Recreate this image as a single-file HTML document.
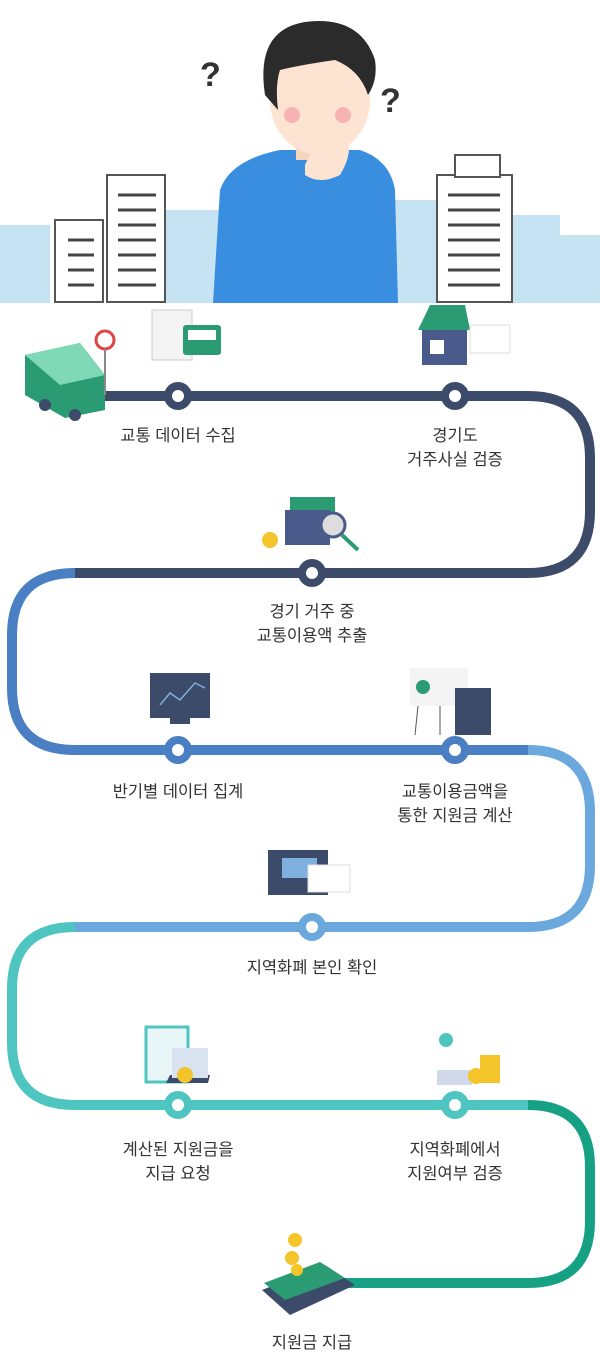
<!DOCTYPE html>
<html><head><meta charset="utf-8"><style>
html,body{margin:0;padding:0;background:#fff;}
body{width:600px;height:1369px;position:relative;overflow:hidden;font-family:"Liberation Sans","Noto Sans CJK KR",sans-serif;}
svg{position:absolute;left:0;top:0;}
.l{position:absolute;transform:translateX(-50%);text-align:center;font-size:16.5px;line-height:24px;color:#333;white-space:nowrap;}
</style></head><body>
<svg width="600" height="1369" viewBox="0 0 600 1369">
<g fill="#c6e3f4">
<rect x="0" y="225" width="50" height="78"/><rect x="160" y="210" width="60" height="93"/>
<rect x="395" y="200" width="45" height="103"/><rect x="510" y="215" width="50" height="88"/><rect x="560" y="235" width="40" height="68"/>
</g>
<g fill="#fff" stroke="#555" stroke-width="2">
<rect x="55" y="220" width="48" height="82"/><rect x="107" y="175" width="58" height="127"/>
<rect x="437" y="175" width="75" height="127"/><rect x="455" y="155" width="45" height="22"/>
</g>
<g stroke="#444" stroke-width="3">
<path d="M68 240h26M68 255h26M68 270h26M68 285h26M118 195h38M118 210h38M118 225h38M118 240h38M118 255h38M118 270h38M118 285h38M448 195h52M448 210h52M448 225h52M448 240h52M448 255h52M448 270h52M448 285h52"/>
</g>
<path d="M213 303 L220 190 Q230 160 280 150 L360 150 Q390 160 395 190 L398 303 Z" fill="#3a8ee0"/>
<rect x="296" y="120" width="46" height="40" fill="#f6d3bd"/>
<ellipse cx="320" cy="100" rx="50" ry="55" fill="#fde4d2"/>
<path d="M265 95 Q255 30 305 22 Q360 15 375 60 Q378 80 368 95 Q360 70 335 60 Q300 65 280 70 Q275 85 278 110 Z" fill="#2b2b2b"/>
<circle cx="292" cy="115" r="8" fill="#f7b3b3"/><circle cx="343" cy="115" r="8" fill="#f7b3b3"/>
<path d="M305 165 Q320 130 345 135 Q355 150 340 175 Q320 185 305 175Z" fill="#fde4d2"/>
<text x="200" y="86" font-size="34" font-weight="bold" fill="#333" font-family="Liberation Sans">?</text>
<text x="380" y="112" font-size="34" font-weight="bold" fill="#333" font-family="Liberation Sans">?</text>
<g fill="none" stroke-width="10">
<path d="M100 396 H528 Q590 396 590 458 V511 Q590 573 528 573 H75" stroke="#3d4b6b"/>
<path d="M75 573 Q12 573 12 635 V688 Q12 750 75 750 H528" stroke="#4a80c3"/>
<path d="M528 750 Q590 750 590 812 V865 Q590 927 528 927 H75" stroke="#6aa8de"/>
<path d="M75 927 Q12 927 12 989 V1043 Q12 1105 75 1105 H528" stroke="#4ec5c1"/>
<path d="M528 1105 Q590 1105 590 1167 V1221 Q590 1283 528 1283 H340" stroke="#17a184"/>
</g>
<g stroke-width="8" fill="#fff">
<circle cx="178" cy="396" r="10" stroke="#3d4b6b"/><circle cx="455" cy="396" r="10" stroke="#3d4b6b"/>
<circle cx="312" cy="573" r="10" stroke="#3d4b6b"/>
<circle cx="178" cy="750" r="10" stroke="#4a80c3"/><circle cx="455" cy="750" r="10" stroke="#4a80c3"/>
<circle cx="312" cy="927" r="10" stroke="#6aa8de"/>
<circle cx="178" cy="1105" r="10" stroke="#4ec5c1"/><circle cx="455" cy="1105" r="10" stroke="#4ec5c1"/>
</g>
<path d="M25 355 L80 343 L105 375 L105 410 L65 418 L25 395 Z" fill="#2a9b73"/>
<path d="M25 355 L80 343 L105 375 L60 385 Z" fill="#7fd8b6"/>
<circle cx="45" cy="405" r="6" fill="#3d4b6b"/><circle cx="75" cy="415" r="6" fill="#3d4b6b"/>
<circle cx="105" cy="340" r="9" fill="#fff" stroke="#d44" stroke-width="3"/><line x1="105" y1="349" x2="105" y2="395" stroke="#888" stroke-width="2"/>
<rect x="152" y="310" width="40" height="50" fill="#f4f4f4" stroke="#ccc"/>
<rect x="183" y="325" width="38" height="30" rx="3" fill="#2a9b73"/><rect x="188" y="330" width="28" height="10" fill="#fff"/>
<path d="M418 330 L430 305 L465 305 L470 330Z" fill="#2a9b73"/><rect x="422" y="330" width="45" height="35" fill="#4a5a8a"/>
<rect x="430" y="340" width="14" height="14" fill="#fff"/><rect x="470" y="325" width="40" height="28" fill="#fff" stroke="#ddd"/>
<rect x="290" y="497" width="45" height="22" fill="#2a9b73"/><rect x="285" y="510" width="45" height="35" fill="#4a5a8a"/>
<circle cx="270" cy="540" r="8" fill="#f3c52b"/><circle cx="333" cy="525" r="12" fill="#ddd" stroke="#4a5a8a" stroke-width="3"/>
<line x1="342" y1="535" x2="358" y2="550" stroke="#2a9b73" stroke-width="4"/>
<rect x="150" y="673" width="60" height="45" fill="#3d4b6b"/><rect x="170" y="718" width="20" height="6" fill="#3d4b6b"/>
<polyline points="160,705 170,693 180,700 195,683 205,688" fill="none" stroke="#7fb0e0" stroke-width="1.5"/>
<rect x="410" y="668" width="58" height="38" fill="#f4f4f4"/><circle cx="423" cy="687" r="7" fill="#2a9b73"/>
<path d="M418 706 L415 735 M440 706 L440 735 M460 706 L465 735" stroke="#555"/>
<rect x="455" y="688" width="36" height="47" fill="#3d4b6b"/>
<rect x="268" y="850" width="60" height="45" fill="#3d4b6b"/><rect x="282" y="858" width="35" height="20" fill="#7fb0e0"/>
<rect x="308" y="865" width="42" height="27" fill="#fff" stroke="#ddd"/>
<rect x="146" y="1027" width="42" height="55" fill="#e8f6f8" stroke="#4ec5c1" stroke-width="3"/>
<path d="M166 1083 L208 1083 L210 1075 L170 1075Z" fill="#3d4b6b"/><rect x="172" y="1048" width="36" height="30" fill="#d8e2f0"/>
<circle cx="185" cy="1075" r="8" fill="#f3c52b"/>
<rect x="437" y="1070" width="35" height="15" fill="#d0d8ea"/><circle cx="446" cy="1040" r="7" fill="#4ec5c1"/>
<rect x="480" y="1055" width="20" height="28" fill="#f3c52b"/><circle cx="476" cy="1076" r="8" fill="#f3c52b"/>
<path d="M262 1290 L325 1265 L355 1285 L290 1315Z" fill="#3d4b6b"/>
<path d="M264 1283 L320 1262 L345 1278 L285 1300Z" fill="#2a9b73"/>
<circle cx="295" cy="1240" r="7" fill="#f3c52b"/><circle cx="292" cy="1258" r="7" fill="#f3c52b"/><circle cx="297" cy="1270" r="6" fill="#f3c52b"/>
</svg>
<div class="l" style="left:178px;top:424px">교통 데이터 수집</div>
<div class="l" style="left:455px;top:424px">경기도<br>거주사실 검증</div>
<div class="l" style="left:312px;top:600px">경기 거주 중<br>교통이용액 추출</div>
<div class="l" style="left:178px;top:780px">반기별 데이터 집계</div>
<div class="l" style="left:455px;top:780px">교통이용금액을<br>통한 지원금 계산</div>
<div class="l" style="left:312px;top:956px">지역화폐 본인 확인</div>
<div class="l" style="left:178px;top:1138px">계산된 지원금을<br>지급 요청</div>
<div class="l" style="left:455px;top:1138px">지역화폐에서<br>지원여부 검증</div>
<div class="l" style="left:312px;top:1331px">지원금 지급</div>
</body></html>
